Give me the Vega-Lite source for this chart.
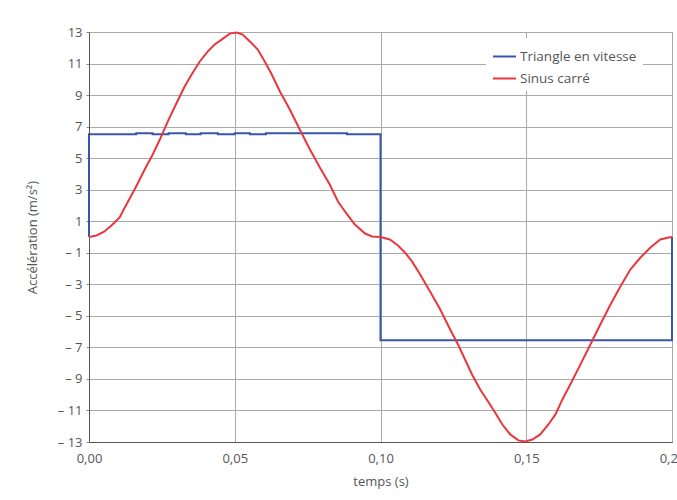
{
  "$schema": "https://vega.github.io/schema/vega-lite/v6.json",
  "autosize": "none",
  "padding": {"left": 89, "top": 32, "right": 6, "bottom": 58},
  "width": 583,
  "height": 410,
  "config": {
    "font": "Open Sans",
    "view": {"stroke": "#555555", "strokeWidth": 1},
    "axis": {"labelFont": "Open Sans", "titleFont": "Open Sans", "labelColor": "#555555", "titleColor": "#555555", "labelFontSize": 13, "titleFontSize": 13, "titleFontWeight": "normal", "gridColor": "#aaaaaa", "domainColor": "#555555"},
    "legend": {"labelFont": "Open Sans", "labelFontSize": 13.5, "labelColor": "#555555"}
  },
  "data": {"values": [
    {"t": 0, "a": 0, "s": "Triangle en vitesse"},
    {"t": 0, "a": 6.52, "s": "Triangle en vitesse"},
    {"t": 0.0162, "a": 6.58, "s": "Triangle en vitesse"},
    {"t": 0.0218, "a": 6.52, "s": "Triangle en vitesse"},
    {"t": 0.0273, "a": 6.58, "s": "Triangle en vitesse"},
    {"t": 0.0332, "a": 6.52, "s": "Triangle en vitesse"},
    {"t": 0.0383, "a": 6.58, "s": "Triangle en vitesse"},
    {"t": 0.0442, "a": 6.52, "s": "Triangle en vitesse"},
    {"t": 0.05, "a": 6.58, "s": "Triangle en vitesse"},
    {"t": 0.0552, "a": 6.52, "s": "Triangle en vitesse"},
    {"t": 0.0607, "a": 6.58, "s": "Triangle en vitesse"},
    {"t": 0.0885, "a": 6.52, "s": "Triangle en vitesse"},
    {"t": 0.1, "a": 6.52, "s": "Triangle en vitesse"},
    {"t": 0.1, "a": -6.55, "s": "Triangle en vitesse"},
    {"t": 0.2, "a": -6.55, "s": "Triangle en vitesse"},
    {"t": 0.2, "a": 0, "s": "Triangle en vitesse"},
    {"t": 0.0, "a": 0.0, "s": "Sinus carré"},
    {"t": 0.0026, "a": 0.1, "s": "Sinus carré"},
    {"t": 0.0053, "a": 0.35, "s": "Sinus carré"},
    {"t": 0.0077, "a": 0.73, "s": "Sinus carré"},
    {"t": 0.0105, "a": 1.24, "s": "Sinus carré"},
    {"t": 0.0132, "a": 2.19, "s": "Sinus carré"},
    {"t": 0.016, "a": 3.14, "s": "Sinus carré"},
    {"t": 0.0191, "a": 4.28, "s": "Sinus carré"},
    {"t": 0.0215, "a": 5.1, "s": "Sinus carré"},
    {"t": 0.0243, "a": 6.18, "s": "Sinus carré"},
    {"t": 0.027, "a": 7.32, "s": "Sinus carré"},
    {"t": 0.0298, "a": 8.4, "s": "Sinus carré"},
    {"t": 0.0328, "a": 9.54, "s": "Sinus carré"},
    {"t": 0.0352, "a": 10.3, "s": "Sinus carré"},
    {"t": 0.038, "a": 11.13, "s": "Sinus carré"},
    {"t": 0.0407, "a": 11.76, "s": "Sinus carré"},
    {"t": 0.0431, "a": 12.21, "s": "Sinus carré"},
    {"t": 0.0455, "a": 12.52, "s": "Sinus carré"},
    {"t": 0.0483, "a": 12.9, "s": "Sinus carré"},
    {"t": 0.0507, "a": 12.97, "s": "Sinus carré"},
    {"t": 0.0527, "a": 12.84, "s": "Sinus carré"},
    {"t": 0.0552, "a": 12.4, "s": "Sinus carré"},
    {"t": 0.0579, "a": 11.89, "s": "Sinus carré"},
    {"t": 0.0603, "a": 11.13, "s": "Sinus carré"},
    {"t": 0.0627, "a": 10.3, "s": "Sinus carré"},
    {"t": 0.0655, "a": 9.23, "s": "Sinus carré"},
    {"t": 0.0689, "a": 8.08, "s": "Sinus carré"},
    {"t": 0.0723, "a": 6.82, "s": "Sinus carré"},
    {"t": 0.0758, "a": 5.55, "s": "Sinus carré"},
    {"t": 0.0792, "a": 4.41, "s": "Sinus carré"},
    {"t": 0.0826, "a": 3.33, "s": "Sinus carré"},
    {"t": 0.0854, "a": 2.25, "s": "Sinus carré"},
    {"t": 0.0878, "a": 1.62, "s": "Sinus carré"},
    {"t": 0.0912, "a": 0.79, "s": "Sinus carré"},
    {"t": 0.0947, "a": 0.22, "s": "Sinus carré"},
    {"t": 0.0971, "a": 0.03, "s": "Sinus carré"},
    {"t": 0.1, "a": 0.0, "s": "Sinus carré"},
    {"t": 0.1032, "a": -0.16, "s": "Sinus carré"},
    {"t": 0.106, "a": -0.54, "s": "Sinus carré"},
    {"t": 0.1084, "a": -0.98, "s": "Sinus carré"},
    {"t": 0.1108, "a": -1.55, "s": "Sinus carré"},
    {"t": 0.1136, "a": -2.38, "s": "Sinus carré"},
    {"t": 0.117, "a": -3.46, "s": "Sinus carré"},
    {"t": 0.1205, "a": -4.6, "s": "Sinus carré"},
    {"t": 0.1239, "a": -5.87, "s": "Sinus carré"},
    {"t": 0.1266, "a": -6.82, "s": "Sinus carré"},
    {"t": 0.129, "a": -7.77, "s": "Sinus carré"},
    {"t": 0.1314, "a": -8.72, "s": "Sinus carré"},
    {"t": 0.1342, "a": -9.67, "s": "Sinus carré"},
    {"t": 0.1369, "a": -10.43, "s": "Sinus carré"},
    {"t": 0.1393, "a": -11.13, "s": "Sinus carré"},
    {"t": 0.1418, "a": -11.89, "s": "Sinus carré"},
    {"t": 0.1445, "a": -12.52, "s": "Sinus carré"},
    {"t": 0.1473, "a": -12.9, "s": "Sinus carré"},
    {"t": 0.1497, "a": -12.97, "s": "Sinus carré"},
    {"t": 0.1521, "a": -12.84, "s": "Sinus carré"},
    {"t": 0.1548, "a": -12.52, "s": "Sinus carré"},
    {"t": 0.1576, "a": -11.89, "s": "Sinus carré"},
    {"t": 0.16, "a": -11.25, "s": "Sinus carré"},
    {"t": 0.1624, "a": -10.3, "s": "Sinus carré"},
    {"t": 0.1651, "a": -9.35, "s": "Sinus carré"},
    {"t": 0.1686, "a": -8.08, "s": "Sinus carré"},
    {"t": 0.172, "a": -6.82, "s": "Sinus carré"},
    {"t": 0.1754, "a": -5.55, "s": "Sinus carré"},
    {"t": 0.1789, "a": -4.28, "s": "Sinus carré"},
    {"t": 0.1823, "a": -3.14, "s": "Sinus carré"},
    {"t": 0.1857, "a": -2.06, "s": "Sinus carré"},
    {"t": 0.1892, "a": -1.3, "s": "Sinus carré"},
    {"t": 0.1926, "a": -0.67, "s": "Sinus carré"},
    {"t": 0.196, "a": -0.16, "s": "Sinus carré"},
    {"t": 0.1988, "a": -0.03, "s": "Sinus carré"},
    {"t": 0.2, "a": 0.0, "s": "Sinus carré"}
  ]},
  "transform": [{"window": [{"op": "row_number", "as": "idx"}]}],
  "encoding": {
    "x": {"field": "t", "type": "quantitative", "scale": {"domain": [0, 0.2], "nice": false},
      "axis": {"title": "temps (s)", "values": [0, 0.05, 0.1, 0.15, 0.2], "labelExpr": "datum.value == 0.2 ? '0,20' : replace(format(datum.value, '.2f'), '.', ',')", "ticks": false, "labelPadding": 10, "titlePadding": 10, "labelFlush": false}},
    "y": {"field": "a", "type": "quantitative", "scale": {"domain": [-13, 13], "nice": false},
      "axis": {"title": "Accélération (m/s²)", "values": [-13, -11, -9, -7, -5, -3, -1, 1, 3, 5, 7, 9, 11, 13], "labelExpr": "datum.value < 0 ? '– ' + format(-datum.value, 'd') : format(datum.value, 'd')", "ticks": true, "tickSize": 3, "tickColor": "#888888", "labelPadding": 4, "titlePadding": 18}},
    "color": {"field": "s", "type": "nominal", "sort": ["Triangle en vitesse", "Sinus carré"],
      "scale": {"domain": ["Triangle en vitesse", "Sinus carré"], "range": ["#3a56a8", "#e8373d"]},
      "legend": {"title": null, "orient": "none", "legendX": 397, "legendY": 6, "symbolType": "stroke", "symbolStrokeWidth": 2, "symbolSize": 529, "fillColor": "white", "padding": 6, "rowPadding": 3, "labelOffset": 3}},
    "order": {"field": "idx"}
  },
  "layer": [
    {"transform": [{"filter": "datum.s == 'Triangle en vitesse'"}], "mark": {"type": "line", "interpolate": "step-after", "strokeWidth": 2}},
    {"transform": [{"filter": "datum.s == 'Sinus carré'"}], "mark": {"type": "line", "interpolate": "linear", "strokeWidth": 2}}
  ]
}
